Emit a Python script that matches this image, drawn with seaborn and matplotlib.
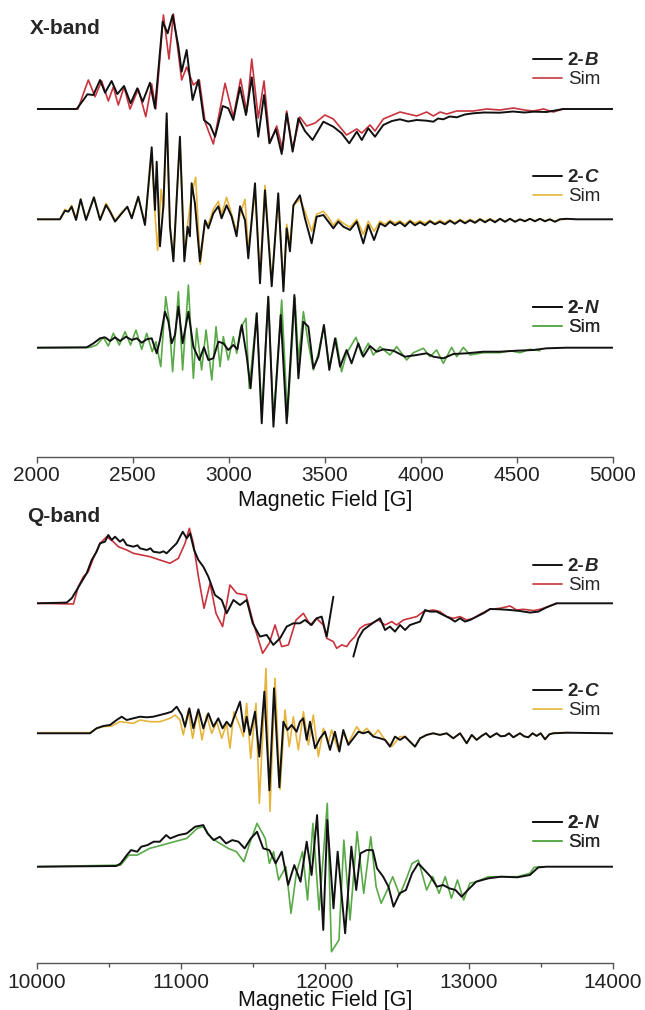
import numpy as np
import matplotlib
matplotlib.use("Agg")
import matplotlib.pyplot as plt
from matplotlib.lines import Line2D
from matplotlib.ticker import MultipleLocator
import seaborn as sns

# EPR spectra (derivative), deflection in arbitrary units
# each trace is a list of (field [G], signal) pairs

# ---------------- X-band ----------------
xb_2B_exp = [(2000, 0), (2208, 0), (2243, 9), (2264, 14.7), (2295, 14), (2330, 29), (2356, 16.3),
             (2390, 28), (2420, 15), (2455, 23), (2489, 5.7), (2524, 20.7), (2552, 7.3), (2590, 26.3),
             (2616, 0.7), (2656, 87.3), (2682, 75.7), (2708, 94), (2738, 62.3), (2755, 37.3), (2781, 59),
             (2812, 9), (2842, 29), (2871, -11), (2903, -16), (2929, -27.7), (2969, 3), (2998, 0.7),
             (3024, -11), (3059, 21.7), (3090, -6), (3120, 31.7), (3154, -27.7), (3184, 14), (3212, -34.3),
             (3246, -20.3), (3276, -45), (3302, -4.3), (3333, -42.7), (3363, -9.3), (3397, -22),
             (3437, -31), (3493, -12.7), (3545, -17.7), (3588, -24.3), (3628, -34.3), (3667, -22.7),
             (3693, -31), (3727, -19.3), (3762, -27.7), (3805, -16), (3850, -12), (3892, -10.3),
             (3935, -12.5), (3979, -11), (4031, -11.7), (4066, -12.7), (4090, -9.5), (4118, -10.3),
             (4150, -7.5), (4188, -8.3), (4230, -5.5), (4274, -4.3), (4330, -3.5), (4413, -3.7),
             (4480, -2.5), (4540, -3.5), (4587, -2.7), (4656, -3), (4743, 0), (5000, 0)]
xb_2B_sim = [(2000, 0), (2215, 0), (2250, 19), (2269, 29), (2304, 12.3), (2338, 28), (2373, 8),
             (2399, 22), (2425, 4), (2455, 22), (2486, 0), (2529, 20), (2568, -7.7), (2599, 25),
             (2620, 0), (2660, 94), (2689, 50), (2712, 95), (2755, 29), (2781, 42), (2816, 24),
             (2847, 29), (2877, -13), (2920, -35), (2981, 25.7), (3024, -8), (3062, 30), (3094, -3),
             (3120, 50), (3154, -9), (3184, 28), (3215, -34), (3250, -17), (3281, -41), (3302, -2),
             (3333, -40), (3371, -8), (3406, -17), (3450, -14), (3501, -6), (3545, -10), (3614, -26),
             (3667, -20), (3693, -24), (3736, -16), (3762, -22), (3805, -10), (3892, -3), (3979, -7),
             (4031, -3), (4066, -7), (4101, -3), (4135, -5), (4188, -2), (4274, -2), (4344, 0),
             (4413, -1), (4483, 1), (4540, -1), (4587, -2), (4640, 0), (4691, -3), (4740, 0)]

xb_2C_exp = [(2000, 0), (2121, 0), (2147, 8.6), (2165, 7.6), (2182, 12.6), (2205, -0.7), (2229, 20),
             (2257, -0.7), (2298, 22), (2330, -0.7), (2361, 14.3), (2382, 7.6), (2408, -2.3), (2443, 6),
             (2472, 12.6), (2495, 1), (2529, 22.6), (2564, -5.7), (2599, 72), (2616, 9.3), (2625, 57.6),
             (2642, -27), (2660, 14), (2677, 106), (2694, -7.4), (2712, -42), (2746, 82.6), (2769, -42),
             (2786, -7.4), (2798, -17), (2807, 36), (2824, 16), (2850, -42), (2877, -1), (2894, -9),
             (2920, 6), (2946, 13), (2963, 1), (2989, 14), (3015, 3), (3041, -17), (3059, 13), (3085, -1),
             (3102, -39), (3137, 36), (3163, -64), (3189, 29), (3224, -67), (3258, 26), (3285, -72),
             (3302, -9), (3319, -32), (3337, 14), (3371, 24), (3397, 1), (3432, -24), (3458, 2.6),
             (3493, 4.3), (3519, -2.3), (3545, -9), (3571, -2.3), (3597, -7.4), (3632, -10.7),
             (3667, -2.3), (3701, -24), (3727, -5.7), (3757, -20.7), (3788, -4), (3815, -7),
             (3840, -2.5), (3866, -6), (3892, -3), (3918, -7), (3944, -2), (3970, -6), (3996, -3),
             (4022, -6), (4048, -2), (4074, -5), (4100, -2.5), (4126, -5), (4152, -1.5), (4178, -4.5),
             (4205, -1), (4231, -4), (4257, -1), (4283, -3.5), (4309, 0), (4335, -3), (4361, 0),
             (4387, -3), (4413, 0.5), (4439, -2.5), (4465, 0.5), (4491, -2.5), (4517, 0), (4543, -2),
             (4569, 0.5), (4595, -2), (4621, 0.5), (4647, -2), (4673, 0), (4699, -2.5), (4725, 0),
             (4760, 0.5), (4812, 0), (5000, 0)]
xb_2C_sim = [(2000, 0), (2121, 0), (2147, 10), (2165, 8), (2182, 14), (2205, 1), (2229, 20), (2257, 0),
             (2298, 22), (2330, 0), (2361, 16), (2382, 9), (2408, -1), (2443, 7), (2472, 12), (2495, 2),
             (2529, 22), (2564, -4), (2599, 66), (2616, 5), (2630, -31), (2648, 30), (2660, 10),
             (2677, 100), (2694, -5), (2712, -38), (2746, 80), (2769, -38), (2786, -5), (2807, 25),
             (2828, 42), (2852, -45), (2877, -2), (2894, -5), (2920, 10), (2946, 18), (2963, 5),
             (2989, 22), (3015, 5), (3041, -12), (3059, 5), (3085, 20), (3102, -30), (3137, 26),
             (3163, -55), (3189, 34), (3224, -62), (3258, 20), (3285, -68), (3302, -5), (3319, -25),
             (3337, 14), (3371, 20), (3397, 8), (3432, -12), (3458, 5), (3493, 8), (3519, 2), (3545, -6),
             (3571, 0), (3597, -4), (3632, -8), (3667, 0), (3701, -15), (3727, -2), (3757, -12),
             (3788, -2), (3815, -5), (3840, -1), (3866, -4), (3892, -1.5), (3918, -5), (3944, -1),
             (3970, -4), (3996, -1.5), (4022, -4), (4048, -1), (4074, -4), (4100, -1), (4126, -3.5),
             (4152, -0.5), (4178, -3.5), (4205, 0), (4231, -3), (4257, 0), (4283, -2.5), (4309, 0.5),
             (4335, -2), (4361, 0.5), (4387, -2), (4413, 0.5), (4439, -2), (4465, 0.5), (4491, -2),
             (4517, 0), (4543, -1.5), (4569, 0.5), (4595, -1.5), (4621, 0.5), (4647, -1.5), (4673, 0),
             (4699, -2), (4725, 0), (4760, 0)]

xb_2N_exp = [(2000, 0), (2260, 0.3), (2295, 4.3), (2330, 9.4), (2356, 10.4), (2382, 6.7), (2408, 10.4),
             (2434, 6.7), (2465, 11), (2495, 7.7), (2521, 9.4), (2547, 5), (2573, 8.4), (2599, 9.4),
             (2625, -5.6), (2642, 7.7), (2668, 36), (2686, 26), (2703, 4.4), (2720, 12.7), (2738, 41),
             (2760, 4.4), (2790, 36), (2816, 1), (2847, -12.3), (2871, 0.4), (2894, -12.3),
             (2920, -10.6), (2946, 6), (2972, 4.4), (2998, -2.3), (3024, 2.7), (3045, -1.6),
             (3068, 22.7), (3094, -9), (3114, -40.6), (3146, 34.4), (3172, -75.6), (3206, 51),
             (3233, -79), (3271, 32.7), (3302, -75.6), (3342, 52.7), (3363, -30.6), (3389, 26),
             (3415, 21), (3441, -20.6), (3467, -9), (3496, 22.7), (3524, -22.3), (3554, 9.4),
             (3580, -19), (3614, -2.3), (3640, -15.6), (3675, 4.4), (3701, -9), (3736, 1.7),
             (3771, -4), (3805, -1.6), (3858, -3), (3918, -9), (3979, -7.3), (4031, -5.6), (4066, -9),
             (4118, -10.6), (4170, -6.3), (4240, -5.6), (4326, -4), (4413, -4), (4500, -3),
             (4587, -2.3), (4656, -0.6), (4760, 0), (5000, 0)]
xb_2N_sim = [(2000, 0), (2278, 0.3), (2312, 2.7), (2347, 10.4), (2373, 1.7), (2399, 14.4), (2430, 2.7),
             (2460, 16), (2489, 2.7), (2517, 17.7), (2547, -1.7), (2573, 14.4), (2602, -4), (2621, 6),
             (2646, -19), (2672, 51), (2689, 27.7), (2708, -24), (2738, 56), (2760, -22.3), (2790, 62.7),
             (2816, -30.6), (2833, 19.4), (2859, -22.3), (2882, 17.7), (2912, -32.3), (2934, 21),
             (2955, -19), (2972, 11), (2998, -12.3), (3024, 11), (3042, -5.6), (3062, 19.4),
             (3090, 29.4), (3107, -40.6), (3146, 34.4), (3172, -65.6), (3206, 51), (3233, -72.3),
             (3276, 47.7), (3306, -69), (3345, 50), (3363, -12.3), (3389, 36), (3415, 4.3),
             (3441, -22.3), (3467, -5.6), (3496, 22.7), (3524, -19), (3559, 9.4), (3588, -24),
             (3614, -5.6), (3663, 10.4), (3693, -7.3), (3727, 4.4), (3753, -7.3), (3788, 1),
             (3840, -7.3), (3875, 1), (3927, -12.3), (3962, -5), (4014, -0.6), (4048, -9), (4083, -2.3),
             (4118, -15.6), (4161, 0.3), (4188, -9), (4222, 0.3), (4257, -7.3), (4326, -5), (4413, -5),
             (4465, -3), (4517, -5), (4569, -1.6), (4621, -3)]

# ---------------- Q-band ----------------
qb_2B_exp_a = [(10000, 0), (10208, 0.7), (10243, 5), (10278, 13.3), (10312, 21.6), (10347, 30),
               (10382, 43.3), (10416, 51.6), (10440, 60), (10474, 61.6), (10497, 68.3), (10521, 63.3),
               (10544, 66.6), (10578, 61.6), (10600, 64), (10625, 58.3), (10671, 56.6), (10700, 58),
               (10717, 55), (10764, 53.3), (10790, 55), (10810, 51.6), (10856, 50.6), (10880, 52),
               (10902, 50), (10937, 55), (10972, 60), (11014, 71.6), (11042, 65), (11065, 70),
               (11093, 53.3), (11123, 43.3), (11157, 36.6), (11192, 26.6), (11238, 8.3), (11285, 3.3),
               (11319, -10), (11366, 3.3), (11412, -1.7), (11458, 3.3), (11500, -20), (11551, -33.3),
               (11597, -31.6), (11643, -41.6), (11690, -35), (11736, -23.3), (11782, -20), (11828, -20),
               (11863, -16.7), (11909, -21.7), (11944, -15), (11979, -13.3), (12014, -33.3), (12060, 6.6)]
qb_2B_exp_b = [(12199, -53.3), (12234, -35), (12268, -26.7), (12315, -21.7), (12349, -18.3),
               (12384, -15), (12419, -26.7), (12453, -23.3), (12488, -28.3), (12523, -21.7),
               (12558, -26.7), (12592, -21.7), (12627, -20), (12662, -18.3), (12697, -6.7),
               (12731, -8.3), (12777, -8.3), (12824, -11.7), (12870, -15), (12905, -18.3),
               (12940, -15), (12974, -18.3), (13009, -16.7), (13055, -13.3), (13102, -10), (13148, -5.7),
               (13217, -6), (13287, -6.7), (13356, -7.7), (13426, -9.3), (13484, -8.3), (13541, -4),
               (13611, 0), (14000, 0)]
qb_2B_sim = [(10000, 0), (10255, -0.7), (10289, 16.6), (10324, 26.6), (10358, 31.6), (10393, 45),
             (10440, 60), (10486, 66.6), (10532, 61.6), (10567, 56.6), (10625, 53.3), (10671, 50),
             (10729, 48.3), (10787, 46.6), (10856, 43.3), (10926, 40), (10984, 45), (11030, 60),
             (11060, 75), (11088, 60), (11123, 26.6), (11162, -5), (11204, 20), (11245, -10),
             (11291, -23.3), (11342, 18.3), (11389, 10), (11454, 8.3), (11505, -20), (11569, -50),
             (11615, -40), (11655, -21.7), (11701, -43.3), (11748, -41.6), (11801, -16.7),
             (11852, -10), (11900, -21.7), (11944, -15), (11990, -21.7), (12014, -35), (12060, -38.3),
             (12083, -45), (12118, -41.6), (12153, -43.3), (12176, -38.3), (12210, -33.3), (12245, -25),
             (12280, -21.7), (12326, -20), (12372, -16.7), (12419, -21.7), (12465, -18.3),
             (12500, -21.7), (12546, -16.7), (12592, -15), (12639, -13.3), (12685, -8.3), (12754, -6.7),
             (12800, -8.3), (12847, -13.3), (12893, -15), (12940, -13.3), (12986, -16.7), (13032, -15),
             (13090, -10), (13148, -6), (13217, -5), (13287, -2.7), (13333, -6.7), (13379, -6),
             (13449, -7.3), (13495, -6), (13553, -3.3), (13611, 0)]

qb_2C_exp = [(10000, 0), (10370, 0), (10416, 5), (10463, 7.3), (10509, 8.3), (10555, 13.3),
             (10590, 16.6), (10625, 13.3), (10671, 15), (10717, 16.6), (10764, 16), (10810, 16.6),
             (10856, 18.3), (10902, 20), (10937, 21.6), (10972, 26.6), (11007, 18.3), (11030, 6.6),
             (11060, 25), (11088, 5), (11123, 24), (11157, 5), (11192, 20), (11227, 6.6), (11261, 15),
             (11291, 5), (11319, 11.6), (11347, 6.6), (11377, 18.3), (11412, 31.6), (11440, 1.6),
             (11458, 16.6), (11481, -1.6), (11516, 21.6), (11546, -23.3), (11581, 41.6),
             (11616, -57), (11648, 45), (11685, -54), (11713, 11.6), (11741, 3.3), (11771, 8.3),
             (11805, 1.6), (11828, 11.6), (11851, 15), (11875, -6.6), (11898, 11.6), (11933, -15),
             (11967, -5), (12002, 1.6), (12037, -16.6), (12071, 1.6), (12102, -18.3), (12129, 3.3),
             (12164, -11.6), (12199, -5), (12234, 1.6), (12268, 0), (12303, 1.6), (12338, -3.3),
             (12384, -5), (12419, -6.6), (12453, -13.3), (12488, -3.3), (12523, -6.6), (12558, -3.3),
             (12592, -8.3), (12627, -13.3), (12662, -5), (12708, -1.6), (12754, 0), (12800, -1.6),
             (12847, 0), (12893, -5), (12940, 0), (12986, -10), (13021, -1.6), (13055, -6.6),
             (13090, -2.6), (13120, 0), (13148, -4), (13194, 0), (13222, -3), (13252, -2.6),
             (13280, 0), (13310, -4), (13356, 0), (13385, -3), (13414, -4), (13443, 0), (13472, -2.6),
             (13500, 0), (13530, -6), (13560, -1), (13588, 0), (13680, 0.6), (14000, 0)]
qb_2C_sim = [(10000, 0.6), (10370, 0.6), (10416, 5), (10463, 6.6), (10520, 7.3), (10578, 11.6),
             (10671, 10), (10717, 13.3), (10787, 11.6), (10856, 11.6), (10926, 15), (10961, 18.3),
             (10995, 13.3), (11018, -1.6), (11053, 23.3), (11083, -5), (11116, 21.6), (11148, -6.6),
             (11180, 18.3), (11215, 0), (11250, 11.6), (11285, -5), (11319, 10), (11342, -15),
             (11370, 21.6), (11407, 8.3), (11435, -3.3), (11458, 30), (11486, -25), (11523, 30),
             (11546, -70), (11592, 65), (11620, -78), (11655, 55), (11690, -56), (11724, 23.3),
             (11754, -13.3), (11782, 16.6), (11817, -16.6), (11852, 21.6), (11887, -11.6),
             (11921, 18.3), (11956, -23.3), (11991, 5), (12025, -10), (12048, 3.3), (12094, -16.6),
             (12129, 0), (12164, -10), (12222, 6.6), (12257, 0), (12291, 5), (12338, -2.6),
             (12372, 3.3), (12419, -6.6), (12465, -13.3), (12523, -3.3), (12558, -3.3), (12592, -8.3),
             (12627, -13.3), (12662, -5), (12708, -1.6), (12754, 0), (12800, -1.6), (12847, 0),
             (12893, -5), (12940, 0), (12986, -10), (13021, -1.6), (13055, -6.6), (13090, -2.6),
             (13120, 0), (13148, -4), (13194, 0), (13222, -3), (13252, -2.6), (13280, 0), (13310, -4),
             (13356, 0), (13385, -3), (13414, -4), (13443, 0), (13472, -2.6), (13500, 0), (13530, -6),
             (13560, -1), (13588, 0.6), (13700, 0.6)]

qb_2N_exp = [(10000, 0), (10554, 0.7), (10583, 3.3), (10626, 11.6), (10655, 16.6), (10698, 15),
             (10726, 20), (10769, 21.6), (10812, 25), (10855, 25), (10899, 31.6), (10927, 28.3),
             (10985, 31.6), (11042, 33.3), (11100, 40), (11157, 41.6), (11186, 33.3), (11229, 26.6),
             (11272, 30), (11315, 23.3), (11358, 26.6), (11401, 25), (11444, 18.3), (11487, 28.3),
             (11530, 35), (11573, 18.3), (11616, 16.6), (11659, 3.3), (11702, 15), (11746, -18.3),
             (11789, 1.6), (11832, -15), (11875, 25), (11909, -8.3), (11947, 51.6), (11990, -63.3),
             (12018, 46.6), (12061, -41.6), (12090, 15), (12142, -66.6), (12185, 20), (12219, -23.3),
             (12248, 13.3), (12291, 16.6), (12334, 16.6), (12363, -1.6), (12406, -10), (12443, -20),
             (12478, -40), (12521, -26.6), (12564, -23.3), (12607, -6.6), (12650, 3.3), (12693, -3.3),
             (12736, -10), (12779, -20), (12822, -18.3), (12865, -21.6), (12908, -23.3), (12951, -30),
             (12994, -23.3), (13052, -15), (13138, -11.6), (13224, -10), (13339, -10.6), (13425, -8.3),
             (13483, -0.7), (13540, 0), (14000, 0)]
qb_2N_sim = [(10000, 0), (10583, 1.6), (10640, 11.6), (10698, 11.6), (10784, 18.3), (10870, 21.6),
             (10956, 25), (11042, 28.3), (11114, 38.3), (11157, 40), (11215, 28.3), (11272, 23.3),
             (11330, 18.3), (11387, 15), (11439, 5), (11479, 23.3), (11530, 43.3), (11587, 28.3),
             (11616, 3.3), (11645, 15), (11680, -13.3), (11731, 0), (11766, -46.6), (11803, -6.6),
             (11846, 15), (11881, -33.3), (11918, 43.3), (11961, -43.3), (12018, 63.3), (12047, -85),
             (12099, -73.3), (12133, 26.6), (12176, -53.3), (12225, 35), (12271, -26.6), (12320, 30),
             (12357, -20), (12392, -36.6), (12435, -23.3), (12472, -10), (12521, -28.3), (12564, -13.3),
             (12607, 3.3), (12650, 6.6), (12708, -23.3), (12751, -10), (12794, -26.6), (12837, -10),
             (12880, -31.6), (12922, -13.3), (12965, -33.3), (13008, -16.6), (13052, -15),
             (13138, -10), (13224, -10), (13339, -10), (13425, -6.6), (13454, -0.7), (13511, 0)]

RED = "#c8333d"
GOLD = "#e6b43c"
GREEN = "#5aa948"
BLACK = "#111111"

sns.set_style("ticks")
plt.rcParams["font.family"] = ["Liberation Sans", "DejaVu Sans"]

W, H = 645, 1010
fig = plt.figure(figsize=(W / 100, H / 100), dpi=100)


def fx(px):
    return px / W


def fy(px):
    return 1 - px / H


def draw_pair(ax, exp_parts, sim, color, offset):
    s = np.array(sim, dtype=float)
    sns.lineplot(x=s[:, 0], y=s[:, 1] + offset, ax=ax, color=color, lw=1.2,
                 estimator=None, sort=False, legend=False, solid_joinstyle="round")
    for part in exp_parts:
        e = np.array(part, dtype=float)
        sns.lineplot(x=e[:, 0], y=e[:, 1] + offset, ax=ax, color=BLACK, lw=1.4,
                     estimator=None, sort=False, legend=False, solid_joinstyle="round")


def pair_legend(ax, letter, color, top_px):
    handles = [Line2D([], [], color=BLACK, lw=1.4), Line2D([], [], color=color, lw=1.2)]
    leg = ax.legend(handles, ["2-", "Sim"], loc="upper left",
                    bbox_to_anchor=(fx(533), fy(top_px)), bbox_transform=fig.transFigure,
                    frameon=False, fontsize=13.5, handlelength=1.55, handletextpad=0.3,
                    labelspacing=0.1, borderpad=0, borderaxespad=0)
    t = leg.get_texts()[0]
    t.set_fontweight("bold")
    ax.add_artist(leg)
    # italic compound letter placed right after the bold "2-"
    ax.annotate(letter, xy=(1, 0), xycoords=t, ha="left", va="bottom", zorder=10,
                fontsize=13.5, fontweight="bold", fontstyle="italic")


def style_axis(ax, lo, hi, major, minor, labelpad):
    ax.set_xlim(lo, hi)
    sns.despine(ax=ax, left=True, top=True, right=True)
    ax.set_yticks([])
    ax.xaxis.set_major_locator(MultipleLocator(major))
    ax.xaxis.set_minor_locator(MultipleLocator(minor))
    ax.spines["bottom"].set_color("#555555")
    ax.spines["bottom"].set_linewidth(1.0)
    ax.tick_params(axis="x", which="both", direction="out", color="#555555", width=1.0,
                   labelsize=15, labelcolor="#222222", pad=3)
    ax.tick_params(axis="x", which="major", length=4)
    ax.tick_params(axis="x", which="minor", length=3)
    ax.set_xlabel("Magnetic Field [G]", fontsize=15.5, color="#111111", labelpad=labelpad)
    ax.set_ylabel("")


# X-band panel
ax_x = fig.add_axes([fx(36.7), fy(456.7), 576 / W, 451.7 / H])
ax_x.set_ylim(0, 451.7)
draw_pair(ax_x, [xb_2B_exp], xb_2B_sim, RED, 347.7)
draw_pair(ax_x, [xb_2C_exp], xb_2C_sim, GOLD, 237.4)
draw_pair(ax_x, [xb_2N_exp], xb_2N_sim, GREEN, 109)
style_axis(ax_x, 2000, 5000, 500, 500, 3)
pair_legend(ax_x, "B", RED, 52)
pair_legend(ax_x, "C", GOLD, 169)
pair_legend(ax_x, "N", GREEN, 300)

# Q-band panel
ax_q = fig.add_axes([fx(36.7), fy(963), 576 / W, 443 / H])
ax_q.set_ylim(0, 443)
draw_pair(ax_q, [qb_2B_exp_a, qb_2B_exp_b], qb_2B_sim, RED, 359.7)
draw_pair(ax_q, [qb_2C_exp], qb_2C_sim, GOLD, 229.7)
draw_pair(ax_q, [qb_2N_exp], qb_2N_sim, GREEN, 96.3)
style_axis(ax_q, 10000, 14000, 1000, 500, -1)
pair_legend(ax_q, "B", RED, 558)
pair_legend(ax_q, "C", GOLD, 683)
pair_legend(ax_q, "N", GREEN, 815)

fig.text(fx(30), fy(28), "X-band", fontsize=15, fontweight="bold", va="center", ha="left")
fig.text(fx(27), fy(516), "Q-band", fontsize=15, fontweight="bold", va="center", ha="left")

fig.savefig("out.png", dpi=100)
